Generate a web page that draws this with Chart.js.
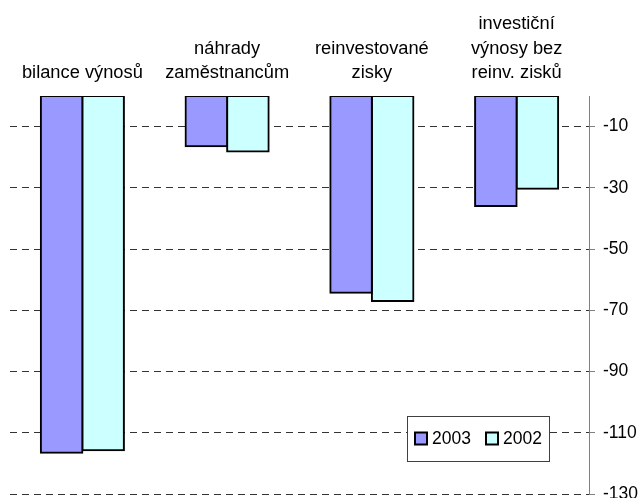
<!DOCTYPE html>
<html>
<head>
<meta charset="utf-8">
<script src="https://cdn.jsdelivr.net/npm/chart.js@4"></script>
<style>
  html, body { margin: 0; padding: 0; background: #fff; }
  #wrap { width: 638px; height: 498px; }
</style>
</head>
<body>
<div id="wrap"><canvas id="graf" width="638" height="498"></canvas></div>
<script>
// data
const kategorie = [
  'bilance výnosů',
  ['náhrady', 'zaměstnancům'],
  ['reinvestované', 'zisky'],
  ['investiční', 'výnosy bez', 'reinv. zisků']
];
const hodnoty2003 = [-116.5, -16.4, -64.3, -35.9];
const hodnoty2002 = [-115.7, -18.1, -67.0, -30.3];
const popiskyOsyY = [-10, -30, -50, -70, -90, -110, -130];

const PISMO = "'Liberation Sans', Arial, sans-serif";

// legenda uvnitř grafu (jako v Excelu)
const legendaPlugin = {
  id: 'legenda',
  afterDraw(chart) {
    const ctx = chart.ctx;
    const x0 = 407.5, y0 = 416.5, w = 142, h = 45;
    ctx.save();
    ctx.fillStyle = '#fff';
    ctx.fillRect(x0, y0, w, h);
    ctx.strokeStyle = '#404040';
    ctx.lineWidth = 1;
    ctx.strokeRect(x0, y0, w, h);
    ctx.font = '17.5px ' + PISMO;
    ctx.textBaseline = 'middle';
    const pozice = [415, 486];
    chart.data.datasets.forEach((ds, i) => {
      const x = pozice[i];
      const y = 432.5;
      ctx.fillStyle = ds.backgroundColor;
      ctx.fillRect(x, y, 12, 12);
      ctx.strokeStyle = '#000';
      ctx.lineWidth = 2;
      ctx.strokeRect(x, y, 12, 12);
      ctx.fillStyle = '#000';
      ctx.fillText(ds.label, x + 17, y + 7);
    });
    ctx.restore();
  }
};

new Chart(document.getElementById('graf'), {
  type: 'bar',
  data: {
    labels: kategorie,
    datasets: [
      {
        label: '2003',
        data: hodnoty2003,
        backgroundColor: '#9999ff',
        borderColor: '#000',
        borderWidth: 2,
        borderSkipped: false,
        inflateAmount: 1
      },
      {
        label: '2002',
        data: hodnoty2002,
        backgroundColor: '#ccffff',
        borderColor: '#000',
        borderWidth: 2,
        borderSkipped: false,
        inflateAmount: 1
      }
    ]
  },
  options: {
    responsive: false,
    devicePixelRatio: 1,
    animation: false,
    layout: { padding: { left: 10, right: 0, top: 0, bottom: 4 } },
    datasets: {
      bar: { categoryPercentage: 0.574, barPercentage: 1 }
    },
    plugins: {
      legend: { display: false },
      tooltip: { enabled: false }
    },
    scales: {
      x: {
        position: 'top',
        grid: { display: false, drawTicks: false },
        border: { display: false },
        ticks: {
          color: '#000',
          padding: 11,
          maxRotation: 0,
          autoSkip: false,
          font: { size: 18.3, family: PISMO, lineHeight: 1.33 }
        },
        afterFit(scale) {
          scale.height = 96;
          scale.paddingLeft = 0;
          scale.paddingRight = 0;
        }
      },
      y: {
        position: 'right',
        min: -130,
        max: 0,
        afterBuildTicks(scale) {
          scale.ticks = popiskyOsyY.map(v => ({ value: v }));
        },
        grid: {
          color: '#333',
          lineWidth: 1,
          tickColor: '#808080',
          tickLength: 6,
          tickBorderDash: []
        },
        border: { display: true, color: '#808080', width: 1, dash: [7, 5] },
        ticks: {
          color: '#000',
          padding: 8,
          font: { size: 17.5, family: PISMO }
        },
        afterFit(scale) {
          scale.width = 49;
          scale.paddingTop = 0;
          scale.paddingBottom = 0;
        }
      }
    }
  },
  plugins: [legendaPlugin]
});
</script>
</body>
</html>
